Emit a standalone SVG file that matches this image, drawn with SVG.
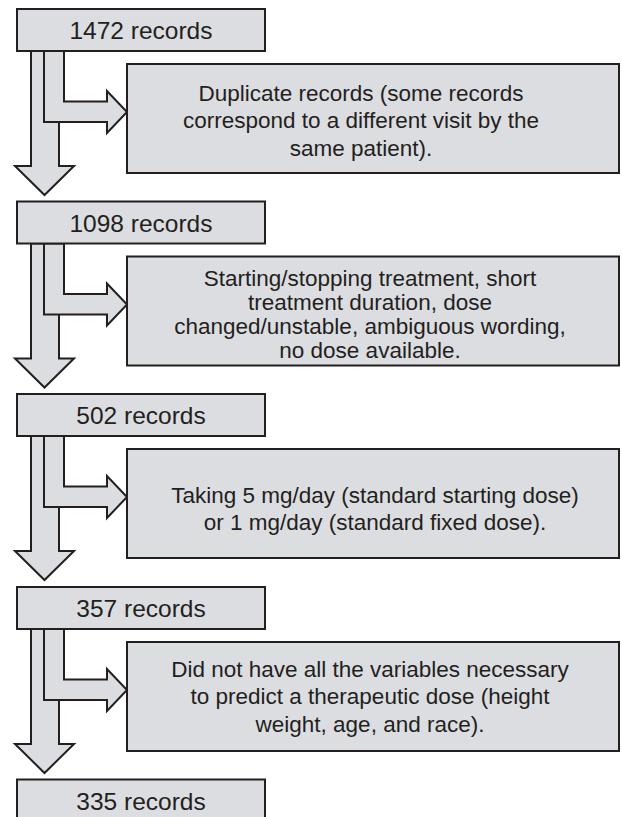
<svg xmlns="http://www.w3.org/2000/svg" width="622" height="817" viewBox="0 0 622 817">
<style>
.box{fill:#dcdde0;stroke:#231f20;stroke-width:2}
.arr{fill:#dcdde0;stroke:#231f20;stroke-width:2;stroke-linejoin:miter}
.lbl{font-family:"Liberation Sans",Arial,sans-serif;font-size:24.5px;fill:#231f20;text-anchor:middle}
.txt{font-family:"Liberation Sans",Arial,sans-serif;font-size:22.5px;fill:#231f20;text-anchor:middle}
</style>
<rect width="622" height="817" fill="#ffffff"/>
<g id="connectors">
  <path class="arr" d="M31,51 V166 H15 L44.5,195 L74,166 H59 V51 Z"/>
  <path class="arr" d="M44,51 V122 H107 V133 L127,112 L107,91 V101.5 H64 V51 Z"/>
  <path class="arr" d="M31,243.5 V358.5 H15 L44.5,387.5 L74,358.5 H59 V243.5 Z"/>
  <path class="arr" d="M44,243.5 V314.5 H107 V325.5 L127,304.5 L107,283.5 V294 H64 V243.5 Z"/>
  <path class="arr" d="M31,436 V551 H15 L44.5,580 L74,551 H59 V436 Z"/>
  <path class="arr" d="M44,436 V507 H107 V518 L127,497 L107,476 V486.5 H64 V436 Z"/>
  <path class="arr" d="M31,629 V744 H15 L44.5,773 L74,744 H59 V629 Z"/>
  <path class="arr" d="M44,629 V700 H107 V711 L127,690 L107,669 V679.5 H64 V629 Z"/>
</g>
<g id="n1472">
  <rect class="box" x="17" y="9" width="248" height="42"/>
  <text class="lbl" x="141" y="39.3">1472 records</text>
</g>
<g id="exclude1">
  <rect class="box" x="127" y="64" width="492" height="109"/>
  <text class="txt" x="361" y="100.7">Duplicate records (some records</text>
  <text class="txt" x="361" y="128">correspond to a different visit by the</text>
  <text class="txt" x="361" y="155.5">same patient).</text>
</g>
<g id="n1098">
  <rect class="box" x="17" y="201.5" width="248" height="42"/>
  <text class="lbl" x="141" y="231.8">1098 records</text>
</g>
<g id="exclude2">
  <rect class="box" x="127" y="256.5" width="492" height="109"/>
  <text class="txt" x="370" y="285.5">Starting/stopping treatment, short</text>
  <text class="txt" x="370" y="309.5">treatment duration, dose</text>
  <text class="txt" x="370" y="333.5">changed/unstable, ambiguous wording,</text>
  <text class="txt" x="370" y="357.5">no dose available.</text>
</g>
<g id="n502">
  <rect class="box" x="17" y="394" width="248" height="42"/>
  <text class="lbl" x="141" y="424.3">502 records</text>
</g>
<g id="exclude3">
  <rect class="box" x="127" y="449" width="492" height="109"/>
  <text class="txt" x="375" y="502.7">Taking 5 mg/day (standard starting dose)</text>
  <text class="txt" x="375" y="530">or 1 mg/day (standard fixed dose).</text>
</g>
<g id="n357">
  <rect class="box" x="17" y="587" width="248" height="42"/>
  <text class="lbl" x="141" y="617.3">357 records</text>
</g>
<g id="exclude4">
  <rect class="box" x="127" y="642" width="492" height="109"/>
  <text class="txt" x="370" y="676.7">Did not have all the variables necessary</text>
  <text class="txt" x="370" y="704">to predict a therapeutic dose (height</text>
  <text class="txt" x="370" y="731.5">weight, age, and race).</text>
</g>
<g id="n335">
  <rect class="box" x="17" y="779.5" width="248" height="42"/>
  <text class="lbl" x="141" y="809.8">335 records</text>
</g>
</svg>
